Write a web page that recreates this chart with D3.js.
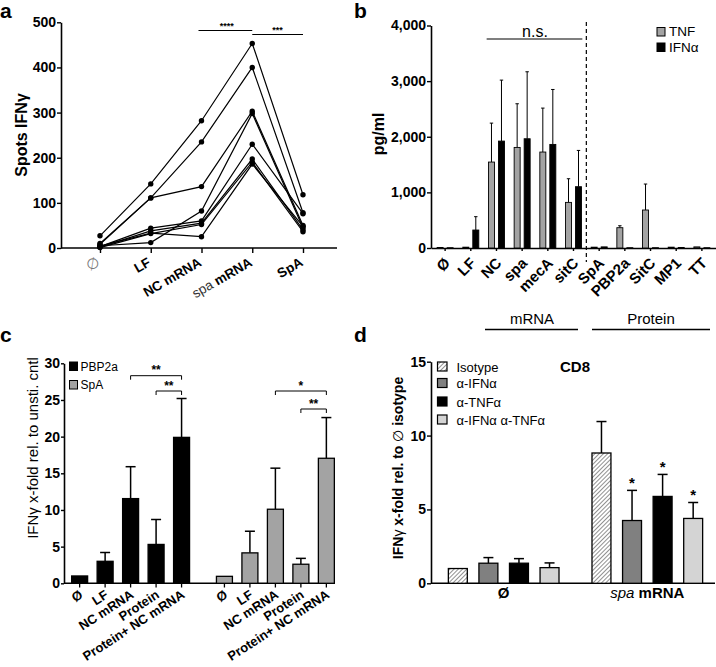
<!DOCTYPE html>
<html><head><meta charset="utf-8">
<script src="https://cdn.jsdelivr.net/npm/d3@7"></script>
<style>
body{margin:0;background:#fff;}
svg{font-family:"Liberation Sans",Arial,Helvetica,sans-serif;}
</style></head>
<body>
<script>
// ---------- Panel a data ----------
const catsA = ["∅", "LF", "NC mRNA", "spa mRNA", "SpA"];
const donor1 = [27, 142, 282, 453, 118];
const donor2 = [10, 111, 235, 400, 78];
const donor3 = [8, 111, 136, 303, 50];
const donor4 = [5, 12, 82, 298, 45];
const donor5 = [3, 44, 60, 230, 76];
const donor6 = [2, 38, 55, 197, 40];
const donor7 = [1, 32, 52, 190, 36];
const donor8 = [4, 33, 25, 186, 48];
const donorsA = [donor1, donor2, donor3, donor4, donor5, donor6, donor7, donor8];
const ticksA = [0, 100, 200, 300, 400, 500];

// ---------- Panel b data ----------
const catsB = ["Ø", "LF", "NC", "spa", "mecA", "sitC", "SpA", "PBP2a", "SitC", "MP1", "TT"];
const tnfB = [10, 15, 1545, 1808, 1725, 820, 15, 365, 683, 15, 20];
const tnfSdB = [0, 0, 700, 785, 790, 425, 0, 35, 467, 0, 0];
const ifnB = [5, 323, 1922, 1964, 1862, 1102, 20, 5, 5, 10, 5];
const ifnSdB = [0, 240, 1096, 1204, 988, 652, 0, 0, 0, 0, 0];
const ticksB = [0, 1000, 2000, 3000, 4000];

// ---------- Panel c data ----------
const groupsC = ["PBP2a", "SpA"];
const catsC = ["Ø", "LF", "NC mRNA", "Protein", "Protein+ NC mRNA"];
const pbp2aC = [1, 3.0, 11.55, 5.3, 19.9];
const pbp2aSdC = [0, 1.2, 4.35, 3.4, 5.3];
const spaC = [0.95, 4.15, 10.1, 2.6, 17.05];
const spaSdC = [0, 2.95, 5.6, 0.8, 5.55];
const ticksC = [0, 5, 10, 15, 20, 25, 30];

// ---------- Panel d data ----------
const groupsD = ["Ø", "spa mRNA"];
const treatD = ["Isotype", "α-IFNα", "α-TNFα", "α-IFNα α-TNFα"];
const nilD = [1, 1.36, 1.36, 1.06];
const nilSdD = [0, 0.38, 0.31, 0.32];
const spaD = [8.82, 4.25, 5.88, 4.39];
const spaSdD = [2.13, 2.04, 1.49, 1.08];
const ticksD = [0, 5, 10, 15];

const svg = d3.select("body").append("svg").attr("width", 716).attr("height", 667);
const defs = svg.append("defs");
const pat = defs.append("pattern").attr("id", "hatch").attr("patternUnits", "userSpaceOnUse")
  .attr("width", 3).attr("height", 3).attr("patternTransform", "rotate(45)");
pat.append("rect").attr("width", 3).attr("height", 3).attr("fill", "#fff");
pat.append("line").attr("x1", 0).attr("y1", 0).attr("x2", 0).attr("y2", 3).attr("stroke", "#555").attr("stroke-width", 1.3);

function styleAxis(g) {
  g.select(".domain").attr("stroke", "#000").attr("stroke-width", 1.6);
  g.selectAll(".tick line").attr("stroke", "#000").attr("stroke-width", 1.4);
  g.selectAll(".tick text").attr("font-size", 14).attr("font-weight", "bold").attr("fill", "#000")
    .style("font-family", '"Liberation Sans",Arial,sans-serif');
}
function letter(x, y, t) {
  svg.append("text").attr("x", x).attr("y", y).attr("font-size", 21).attr("font-weight", "bold").text(t);
}

// ================= Panel a =================
{
  const xA = d3.scalePoint().domain(catsA).range([100, 303]);
  const yA = d3.scaleLinear().domain([0, 500]).range([248, 22.3]);
  const g = svg.append("g");
  const ya = g.append("g").attr("transform", "translate(61,0)")
    .call(d3.axisLeft(yA).tickValues(ticksA).tickSize(4).tickSizeOuter(0).tickPadding(1));
  styleAxis(ya);
  const xa = g.append("g").attr("transform", "translate(0,248)")
    .call(d3.axisBottom(xA).tickSize(5).tickSizeOuter(0).tickFormat(""));
  styleAxis(xa);
  xa.select(".domain").attr("d", "M61,0H337");
  catsA.forEach(c => {
    const t = g.append("text").attr("transform", `translate(${xA(c) + 1},265) rotate(-30)`)
      .attr("text-anchor", "end").attr("font-size", 13.5).attr("font-weight", "bold");
    if (c === "spa mRNA") {
      t.append("tspan").attr("font-weight", "normal").attr("fill", "#333").text("spa ");
      t.append("tspan").text("mRNA");
    } else if (c === "∅") {
      t.attr("font-weight", "normal").attr("fill", "#777").attr("font-size", 15)
        .style("font-family", '"DejaVu Sans",sans-serif').attr("font-style", "italic").text("∅");
    } else t.text(c);
  });
  const line = d3.line().x((d, i) => xA(catsA[i])).y(d => yA(d));
  donorsA.forEach(dn => {
    g.append("path").attr("d", line(dn)).attr("fill", "none").attr("stroke", "#000").attr("stroke-width", 1.2);
    g.selectAll(null).data(dn).enter().append("circle")
      .attr("cx", (d, i) => xA(catsA[i])).attr("cy", d => yA(d)).attr("r", 2.7).attr("fill", "#000");
  });
  g.append("text").attr("transform", "translate(27,135) rotate(-90)").attr("text-anchor", "middle")
    .attr("font-size", 16).attr("font-weight", "bold").text("Spots IFNγ");
  // significance
  g.append("line").attr("x1", xA("NC mRNA") - 3).attr("x2", xA("spa mRNA")).attr("y1", 30.5).attr("y2", 30.5).attr("stroke", "#000").attr("stroke-width", 1.2);
  g.append("line").attr("x1", xA("spa mRNA")).attr("x2", xA("SpA")).attr("y1", 34.5).attr("y2", 34.5).attr("stroke", "#000").attr("stroke-width", 1.2);
  g.append("text").attr("x", (xA("NC mRNA") + xA("spa mRNA")) / 2).attr("y", 28.5).attr("text-anchor", "middle").attr("font-size", 9).attr("font-weight", "bold").text("****");
  g.append("text").attr("x", (xA("spa mRNA") + xA("SpA")) / 2).attr("y", 32.5).attr("text-anchor", "middle").attr("font-size", 9).attr("font-weight", "bold").text("***");
  letter(0, 18, "a");
}

// ================= Panel b =================
{
  const xB = d3.scaleBand().domain(catsB).range([431, 716]).paddingInner(0).paddingOuter(0.05);
  const yB = d3.scaleLinear().domain([0, 4000]).range([248, 25.5]);
  const g = svg.append("g");
  const yb = g.append("g").attr("transform", "translate(431,0)")
    .call(d3.axisLeft(yB).tickValues(ticksB).tickSize(4).tickSizeOuter(0).tickPadding(1).tickFormat(d3.format(",")));
  styleAxis(yb);
  const xb = g.append("g").attr("transform", "translate(0,248)")
    .call(d3.axisBottom(xB).tickSize(3).tickSizeOuter(0).tickFormat(""));
  styleAxis(xb);
  const bw = 6, off = 5;
  const series = [
    { v: tnfB, sd: tnfSdB, fill: "#a3a3a3", dx: -off },
    { v: ifnB, sd: ifnSdB, fill: "#000", dx: off }
  ];
  series.forEach(s => {
    catsB.forEach((c, i) => {
      const cx = xB(c) + xB.bandwidth() / 2 + s.dx;
      if (s.sd[i] > 0) {
        const ye = yB(s.v[i] + s.sd[i]);
        g.append("line").attr("x1", cx).attr("x2", cx).attr("y1", yB(s.v[i])).attr("y2", ye).attr("stroke", "#000").attr("stroke-width", 1);
        g.append("line").attr("x1", cx - 1.7).attr("x2", cx + 1.7).attr("y1", ye).attr("y2", ye).attr("stroke", "#000").attr("stroke-width", 1);
      }
      g.append("rect").attr("x", cx - bw / 2).attr("y", yB(s.v[i])).attr("width", bw)
        .attr("height", Math.max(0.8, yB(0) - yB(s.v[i]))).attr("fill", s.fill).attr("stroke", "#000").attr("stroke-width", 0.9);
    });
  });
  catsB.forEach(c => {
    g.append("text").attr("transform", `translate(${xB(c) + xB.bandwidth() / 2 + 6},264) rotate(-45)`)
      .attr("text-anchor", "end").attr("font-size", 15).attr("font-weight", "bold").text(c);
  });
  g.append("text").attr("transform", "translate(384,134) rotate(-90)").attr("text-anchor", "middle")
    .attr("font-size", 16).attr("font-weight", "bold").text("pg/ml");
  // dashed divider
  const xd = (xB("sitC") + xB("SpA") + xB.bandwidth()) / 2;
  g.append("line").attr("x1", xd).attr("x2", xd).attr("y1", 22).attr("y2", 262).attr("stroke", "#000").attr("stroke-width", 1.2).attr("stroke-dasharray", "4,3");
  // n.s.
  g.append("line").attr("x1", xB("NC") + 3).attr("x2", xd - 4).attr("y1", 39).attr("y2", 39).attr("stroke", "#000").attr("stroke-width", 1.2);
  g.append("text").attr("x", (xB("NC") + xd) / 2).attr("y", 36.5).attr("text-anchor", "middle").attr("font-size", 16).text("n.s.");
  // legend
  const leg = [["TNF", "#a3a3a3"], ["IFNα", "#000"]];
  leg.forEach((l, i) => {
    g.append("rect").attr("x", 657).attr("y", 27.5 + i * 15.5).attr("width", 8).attr("height", 8.5).attr("fill", l[1]).attr("stroke", "#000").attr("stroke-width", 1);
    g.append("text").attr("x", 669).attr("y", 36.3 + i * 15.5).attr("font-size", 13.5).text(l[0]);
  });
  // mRNA / Protein
  g.append("text").attr("x", 532).attr("y", 324).attr("text-anchor", "middle").attr("font-size", 15).text("mRNA");
  g.append("line").attr("x1", 485).attr("x2", 578).attr("y1", 329.5).attr("y2", 329.5).attr("stroke", "#000").attr("stroke-width", 1.6);
  g.append("text").attr("x", 651).attr("y", 324).attr("text-anchor", "middle").attr("font-size", 15).text("Protein");
  g.append("line").attr("x1", 592).attr("x2", 710).attr("y1", 329.5).attr("y2", 329.5).attr("stroke", "#000").attr("stroke-width", 1.6);
  letter(354, 18, "b");
}

// ================= Panel c =================
{
  const outer = d3.scaleBand().domain(groupsC).range([64, 342]).paddingInner(0.08).paddingOuter(0);
  const inner = d3.scaleBand().domain(catsC).range([0, outer.bandwidth()]).paddingInner(0.373).paddingOuter(0.3);
  const yC = d3.scaleLinear().domain([0, 30]).range([583.3, 363.3]);
  const xc = (gr, c) => outer(gr) + inner(c) + inner.bandwidth() / 2;
  const g = svg.append("g");
  const yc = g.append("g").attr("transform", "translate(64,0)")
    .call(d3.axisLeft(yC).tickValues(ticksC).tickSize(3).tickSizeOuter(0).tickPadding(1));
  styleAxis(yc);
  g.append("line").attr("x1", 64).attr("x2", 335).attr("y1", 583.3).attr("y2", 583.3).attr("stroke", "#000").attr("stroke-width", 1.6);
  const data = [
    { gr: "PBP2a", v: pbp2aC, sd: pbp2aSdC, fill: "#000" },
    { gr: "SpA", v: spaC, sd: spaSdC, fill: "#a3a3a3" }
  ];
  data.forEach(s => {
    catsC.forEach((c, i) => {
      const cx = xc(s.gr, c);
      const bw = inner.bandwidth();
      g.append("line").attr("x1", cx).attr("x2", cx).attr("y1", 583.3).attr("y2", 587.5).attr("stroke", "#000").attr("stroke-width", 1.3);
      if (s.sd[i] > 0) {
        const ye = yC(s.v[i] + s.sd[i]);
        g.append("line").attr("x1", cx).attr("x2", cx).attr("y1", yC(s.v[i])).attr("y2", ye).attr("stroke", "#000").attr("stroke-width", 1.5);
        g.append("line").attr("x1", cx - 5).attr("x2", cx + 5).attr("y1", ye).attr("y2", ye).attr("stroke", "#000").attr("stroke-width", 1.5);
      }
      g.append("rect").attr("x", cx - bw / 2).attr("y", yC(s.v[i])).attr("width", bw)
        .attr("height", yC(0) - yC(s.v[i])).attr("fill", s.fill).attr("stroke", "#000").attr("stroke-width", 1.3);
      g.append("text").attr("transform", `translate(${cx + 4},597) rotate(-33)`)
        .attr("text-anchor", "end").attr("font-size", 13).attr("font-weight", "bold").text(c);
    });
  });
  g.append("text").attr("transform", "translate(38,448) rotate(-90)").attr("text-anchor", "middle")
    .attr("font-size", 15).text("IFNγ x-fold rel. to unsti. cntl");
  // brackets
  function bracket(gr, c1, c2, y, label) {
    const x1 = xc(gr, c1), x2 = xc(gr, c2);
    g.append("path").attr("d", `M${x1},${y + 4}V${y}H${x2}V${y + 4}`).attr("fill", "none").attr("stroke", "#000").attr("stroke-width", 1);
    g.append("text").attr("x", (x1 + x2) / 2).attr("y", y - 1.5).attr("text-anchor", "middle").attr("font-size", 12).attr("font-weight", "bold").text(label);
  }
  bracket("PBP2a", "NC mRNA", "Protein+ NC mRNA", 375.7, "**");
  bracket("PBP2a", "Protein", "Protein+ NC mRNA", 391, "**");
  bracket("SpA", "NC mRNA", "Protein+ NC mRNA", 391, "*");
  bracket("SpA", "Protein", "Protein+ NC mRNA", 409, "**");
  // legend
  [["PBP2a", "#000"], ["SpA", "#a3a3a3"]].forEach((l, i) => {
    g.append("rect").attr("x", 69.5).attr("y", 362 + i * 18.5).attr("width", 8).attr("height", 8.5).attr("fill", l[1]).attr("stroke", "#000").attr("stroke-width", 1);
    g.append("text").attr("x", 80.5).attr("y", 370.8 + i * 18.5).attr("font-size", 12).text(l[0]);
  });
  letter(0, 342, "c");
}

// ================= Panel d =================
{
  const outer = d3.scaleBand().domain(groupsD).range([431, 720]).paddingInner(0.102).paddingOuter(0.057);
  const inner = d3.scaleBand().domain(treatD).range([0, outer.bandwidth()]).paddingInner(0.38).paddingOuter(0.3);
  const yD = d3.scaleLinear().domain([0, 15]).range([583.3, 361.7]);
  const fills = ["url(#hatch)", "#808080", "#000", "#d4d4d4"];
  const g = svg.append("g");
  const yd = g.append("g").attr("transform", "translate(431,0)")
    .call(d3.axisLeft(yD).tickValues(ticksD).tickSize(4).tickSizeOuter(0).tickPadding(1));
  styleAxis(yd);
  g.append("line").attr("x1", 431).attr("x2", 715).attr("y1", 583.3).attr("y2", 583.3).attr("stroke", "#000").attr("stroke-width", 1.6);
  const data = [{ gr: "Ø", v: nilD, sd: nilSdD }, { gr: "spa mRNA", v: spaD, sd: spaSdD }];
  data.forEach(s => {
    treatD.forEach((t, i) => {
      const x0 = outer(s.gr) + inner(t), bw = inner.bandwidth(), cx = x0 + bw / 2;
      if (s.sd[i] > 0) {
        const ye = yD(s.v[i] + s.sd[i]);
        g.append("line").attr("x1", cx).attr("x2", cx).attr("y1", yD(s.v[i])).attr("y2", ye).attr("stroke", "#000").attr("stroke-width", 1.5);
        g.append("line").attr("x1", cx - 5).attr("x2", cx + 5).attr("y1", ye).attr("y2", ye).attr("stroke", "#000").attr("stroke-width", 1.5);
        if (s.gr === "spa mRNA" && i > 0) {
          g.append("text").attr("x", cx).attr("y", ye - 2).attr("text-anchor", "middle").attr("font-size", 15).attr("font-weight", "bold").text("*");
        }
      }
      g.append("rect").attr("x", x0).attr("y", yD(s.v[i])).attr("width", bw)
        .attr("height", yD(0) - yD(s.v[i])).attr("fill", fills[i]).attr("stroke", "#000").attr("stroke-width", 1.3);
    });
    const lx = outer(s.gr) + outer.bandwidth() / 2;
    const t = g.append("text").attr("x", lx).attr("y", 598).attr("text-anchor", "middle").attr("font-size", 15).attr("font-weight", "bold");
    if (s.gr === "spa mRNA") {
      t.append("tspan").attr("font-style", "italic").attr("font-weight", "normal").text("spa");
      t.append("tspan").text(" mRNA");
    } else t.text(s.gr);
  });
  const yl = g.append("text").attr("transform", "translate(403,468) rotate(-90)").attr("text-anchor", "middle")
    .attr("font-size", 14).attr("font-weight", "bold");
  yl.append("tspan").text("IFN");
  yl.append("tspan").attr("font-weight", "normal").text("γ");
  yl.append("tspan").text(" x-fold rel. to ");
  yl.append("tspan").attr("font-weight", "normal").text("∅");
  yl.append("tspan").text(" isotype");
  g.append("text").attr("x", 575).attr("y", 372).attr("text-anchor", "middle").attr("font-size", 15).attr("font-weight", "bold").text("CD8");
  treatD.forEach((t, i) => {
    const ry = [362, 378.5, 397, 415][i];
    g.append("rect").attr("x", 437.5).attr("y", ry).attr("width", 9.5).attr("height", 9).attr("fill", fills[i]).attr("stroke", "#000").attr("stroke-width", 1.2);
    g.append("text").attr("x", 456.5).attr("y", ry + 9.5).attr("font-size", 13).text(t);
  });
  letter(354, 342, "d");
}
</script>
</body></html>
